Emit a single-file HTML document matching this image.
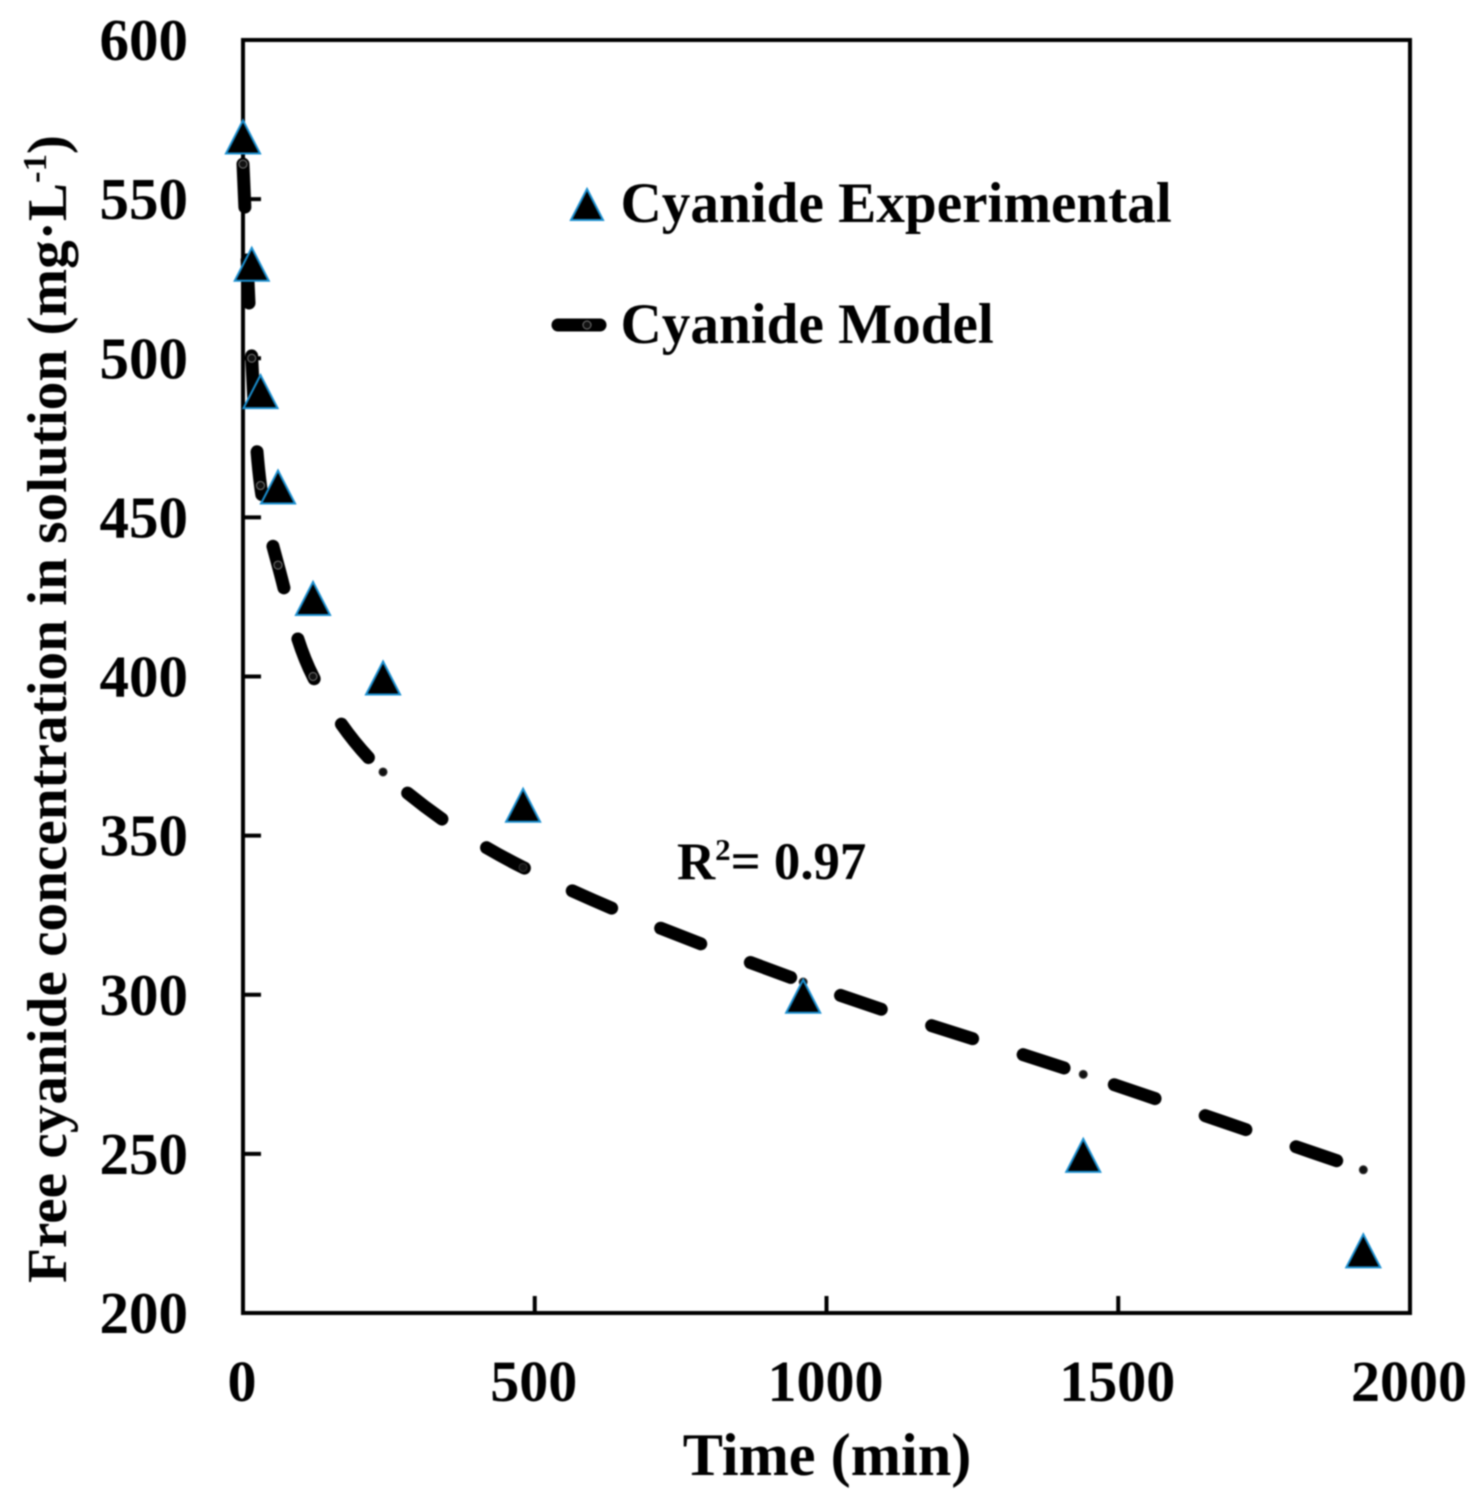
<!DOCTYPE html>
<html lang="en">
<head>
<meta charset="utf-8">
<title>Free cyanide concentration over time</title>
<style>
html,body{margin:0;padding:0;background:#fff;}
svg{display:block;filter:blur(0.7px);}
text{font-family:"Liberation Serif",serif;font-weight:bold;fill:#000;}
</style>
</head>
<body>
<svg id="chart" xmlns="http://www.w3.org/2000/svg" width="1478" height="1508" viewBox="0 0 1478 1508">
  <rect x="0" y="0" width="1478" height="1508" fill="#fff"/>
  <rect x="243" y="40" width="1167" height="1273" fill="none" stroke="#000" stroke-width="4"/>
  <g id="ticks"></g>
  <g id="tick-labels"></g>
  <g id="model"></g>
  <g id="experimental"></g>
  <text x="827" y="1475" font-size="60.3" text-anchor="middle">Time (min)</text>
  <text transform="translate(66,1283) rotate(-90)" font-size="56" textLength="1148" lengthAdjust="spacingAndGlyphs">Free cyanide concentration in solution (mg·L<tspan dy="-20" font-size="34">-1</tspan><tspan dy="20">)</tspan></text>
  <g>
    <polygon points="587,189 603,220 571,220" fill="#000" stroke="#1a8fd0" stroke-width="2"/>
    <text x="620.5" y="222" font-size="57.2">Cyanide Experimental</text>
    <line x1="558" y1="325" x2="600" y2="325" stroke="#000" stroke-width="13" stroke-linecap="round"/>
    <circle cx="587" cy="325" r="4" fill="#111" stroke="#777" stroke-width="1"/>
    <text x="620.5" y="343" font-size="57.2">Cyanide Model</text>
  </g>
  <text x="677" y="879" font-size="52.8">R<tspan dy="-19" font-size="31">2</tspan><tspan dy="19">= 0.97</tspan></text>
</svg>
<script>
const timeMinutes = [0, 15, 30, 60, 120, 240, 480, 960, 1440, 1920];
const experimentalValues = [570, 530, 490, 460, 425, 400, 360, 300, 250, 220];
const modelValues = [561, 500, 460, 435, 400, 370, 340, 304, 275, 245];
const xTickValues = [0, 500, 1000, 1500, 2000];
const yTickValues = [200, 250, 300, 350, 400, 450, 500, 550, 600];

const NS = 'http://www.w3.org/2000/svg';
const PLOT = { left: 243, right: 1410, top: 40, bottom: 1313 };
const xDomain = [0, 2000];
const yDomain = [200, 600];

function xScale(v) {
  return PLOT.left + (v - xDomain[0]) / (xDomain[1] - xDomain[0]) * (PLOT.right - PLOT.left);
}
function yScale(v) {
  return PLOT.bottom - (v - yDomain[0]) / (yDomain[1] - yDomain[0]) * (PLOT.bottom - PLOT.top);
}
function make(tag, attrs, parent) {
  const el = document.createElementNS(NS, tag);
  Object.keys(attrs).forEach(function (k) { el.setAttribute(k, attrs[k]); });
  parent.appendChild(el);
  return el;
}

const ticksG = document.getElementById('ticks');
const labelsG = document.getElementById('tick-labels');
const modelG = document.getElementById('model');
const expG = document.getElementById('experimental');

xTickValues.forEach(function (v) {
  if (v !== xDomain[0] && v !== xDomain[1]) {
    const t = make('line', { x1: xScale(v), x2: xScale(v), y1: PLOT.bottom, y2: PLOT.bottom - 17, stroke: '#000', 'stroke-width': 4 }, ticksG);
    
    
  }
  const lab = make('text', { x: xScale(v) - 1, y: 1401, 'font-size': 58, 'text-anchor': 'middle' }, labelsG);
  lab.textContent = String(v);
  
  
});

yTickValues.forEach(function (v) {
  if (v !== yDomain[0] && v !== yDomain[1]) {
    const t = make('line', { x1: PLOT.left, x2: PLOT.left + 18, y1: yScale(v), y2: yScale(v), stroke: '#000', 'stroke-width': 4 }, ticksG);
    
    
  }
  const lab = make('text', { x: 188, y: yScale(v) + 20, 'font-size': 59, 'text-anchor': 'end' }, labelsG);
  lab.textContent = String(v);
  
  
});

/* Smoothed model curve through the data points (Catmull-Rom to Bezier) */
const modelPts = timeMinutes.map(function (t, i) { return [xScale(t), yScale(modelValues[i])]; });
let d = 'M' + modelPts[0][0] + ' ' + modelPts[0][1];
for (let i = 0; i < modelPts.length - 1; i++) {
  const p0 = modelPts[Math.max(i - 1, 0)];
  const p1 = modelPts[i];
  const p2 = modelPts[i + 1];
  const p3 = modelPts[Math.min(i + 2, modelPts.length - 1)];
  const seg = Math.hypot(p2[0] - p1[0], p2[1] - p1[1]);
  const a = Math.hypot(p2[0] - p0[0], p2[1] - p0[1]) || 1;
  const b = Math.hypot(p3[0] - p1[0], p3[1] - p1[1]) || 1;
  const c1x = p1[0] + (p2[0] - p0[0]) / a * seg / 3;
  const c1y = p1[1] + (p2[1] - p0[1]) / a * seg / 3;
  const c2x = p2[0] - (p3[0] - p1[0]) / b * seg / 3;
  const c2y = p2[1] - (p3[1] - p1[1]) / b * seg / 3;
  d += ' C' + c1x + ' ' + c1y + ' ' + c2x + ' ' + c2y + ' ' + p2[0] + ' ' + p2[1];
}
const modelLine = make('path', { d: d, fill: 'none', stroke: '#000', 'stroke-width': 13, 'stroke-linecap': 'round', 'stroke-dasharray': '43 53' }, modelG);



timeMinutes.forEach(function (t, i) {
  const c = make('circle', { cx: xScale(t), cy: yScale(modelValues[i]), r: 4, fill: '#111', stroke: i < 5 ? '#777' : '#333', 'stroke-width': 1 }, modelG);
  
  
});

timeMinutes.forEach(function (t, i) {
  const cx = xScale(t);
  const cy = yScale(experimentalValues[i]) + 1;
  const pts = [[cx, cy - 16], [cx + 17, cy + 17], [cx - 17, cy + 17]].map(function (p) { return p.join(','); }).join(' ');
  const tri = make('polygon', { points: pts, fill: '#000', stroke: '#1a8fd0', 'stroke-width': 2 }, expG);
  
  
});
</script>
</body>
</html>
